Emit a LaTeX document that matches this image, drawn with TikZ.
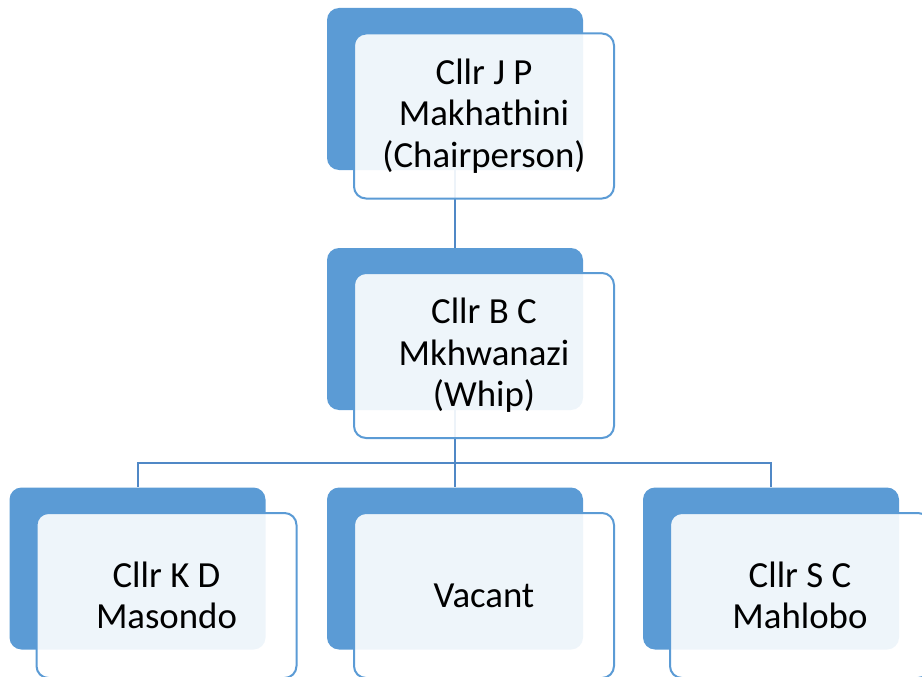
\documentclass[tikz,border=0pt]{standalone}
\usepackage{fontspec}
\setmainfont{Carlito}
\definecolor{boxblue}{HTML}{5B9BD5}
\definecolor{linkblue}{HTML}{5088C6}
\pgfdeclarelayer{links}
\pgfsetlayers{links,main}
\begin{document}
\begin{tikzpicture}[x=1pt,y=-1pt,
  backbox/.style={fill=boxblue, rounded corners=12pt, minimum width=256pt,
    minimum height=162pt, inner sep=0pt},
  frontbox/.style={draw=boxblue, line width=2pt, fill=white, fill opacity=0.9,
    text opacity=1, rounded corners=12pt, minimum width=260pt,
    minimum height=165pt, align=center, inner sep=0pt,
    font=\fontsize{36.8}{41.5}\selectfont},
  link/.style={draw=linkblue, line width=2pt}]
\useasboundingbox (0,0) rectangle (922,677);

% back tiles
\node[backbox] (topb) at (455,89) {};
\node[backbox] (midb) at (455,329) {};
\node[backbox] (lb) at (137.5,568.5) {};
\node[backbox] (cb) at (455,568.5) {};
\node[backbox] (rb) at (771,568.5) {};

% front cards with names
\node[frontbox] (top) at (484,116) {Cllr J P\\Makhathini\\(Chairperson)};
\node[frontbox] (mid) at (484,355.5) {Cllr B C\\Mkhwanazi\\(Whip)};
\node[frontbox] (left) at (166.5,595.5) {Cllr K D\\Masondo};
\node[frontbox] (centre) at (484,595.5) {Vacant};
\node[frontbox] (right) at (800,595.5) {Cllr S C\\Mahlobo};

% connectors, kept beneath the tiles
\coordinate (split) at (455,463);
\begin{pgfonlayer}{links}
  \draw[link] (topb.south) -- (midb.north);
  \draw[link] (midb.south) -- (split) -- (cb.north);
  \draw[link] (split) -| (lb.north);
  \draw[link] (split) -| (rb.north);
\end{pgfonlayer}
\end{tikzpicture}
\end{document}
